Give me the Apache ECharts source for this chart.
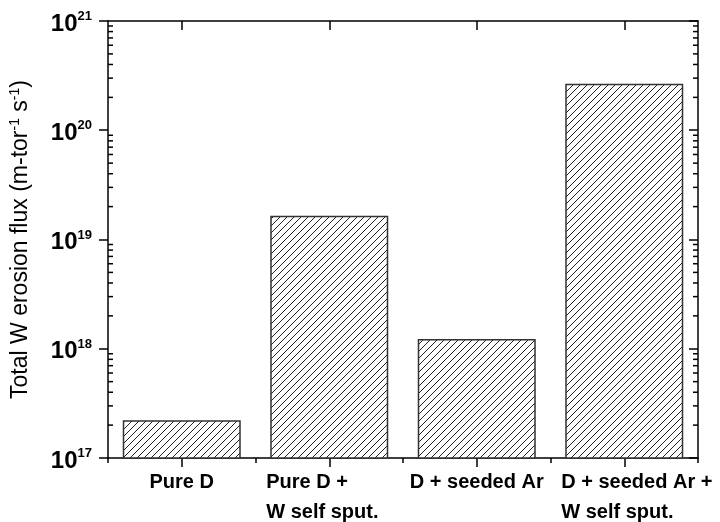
<!DOCTYPE html>
<html>
<head>
<meta charset="utf-8">
<script src="https://cdn.jsdelivr.net/npm/echarts@6/dist/echarts.min.js"></script>
<style>
html,body{margin:0;padding:0;background:#fff;}
#chart{width:720px;height:522px;}
</style>
</head>
<body>
<div id="chart"></div>
<script>
// ---- data ----
const categories = ['Pure D', 'Pure D +\nW self sput.', 'D + seeded Ar', 'D + seeded Ar +\nW self sput.'];
const fluxValues = [2.22e17, 1.65e19, 1.23e18, 2.66e20];
const yMin = 1e17;
const yMax = 1e21;
const decadeExponents = [17, 18, 19, 20];
const minorMultipliers = [2, 3, 4, 5, 6, 7, 8, 9];

const minorTickValues = [];
decadeExponents.forEach(function (e) {
  minorMultipliers.forEach(function (m) { minorTickValues.push([0, m * Math.pow(10, e)]); });
});

// hatch pattern
const P = 7;
const pc = document.createElement('canvas');
pc.width = P; pc.height = P;
const ctx = pc.getContext('2d');
ctx.fillStyle = '#fff';
ctx.fillRect(0, 0, P, P);
ctx.strokeStyle = '#222';
ctx.lineWidth = 1;
ctx.beginPath();
ctx.moveTo(0, P); ctx.lineTo(P, 0);
ctx.moveTo(-1, 1); ctx.lineTo(1, -1);
ctx.moveTo(P - 1, P + 1); ctx.lineTo(P + 1, P - 1);
ctx.stroke();

const FONT = 'Liberation Sans';
const chart = echarts.init(document.getElementById('chart'), null, {renderer: 'canvas'});

function yLabel(v) {
  const e = Math.round(Math.log10(v));
  return '{b|10}{s|' + e + '}';
}

const option = {
  animation: false,
  backgroundColor: '#fff',
  grid: {left: 103, right: 22, top: 21, bottom: 63, containLabel: false},
  xAxis: [
    {
      type: 'category',
      data: categories,
      position: 'bottom',
      axisLine: {show: true, lineStyle: {color: '#000', width: 1.5}},
      axisTick: {show: true, alignWithLabel: true, length: 9, inside: false, lineStyle: {color: '#000', width: 1.5}},
      axisLabel: {
        margin: 9,
        fontFamily: FONT,
        color: '#000',
        formatter: function (v) {
          if (v.indexOf('\n') >= 0) {
            return v.split('\n').map(function (s) { return '{l|' + s + '}'; }).join('\n');
          }
          return '{c|' + v + '}';
        },
        rich: {
          l: {fontFamily: FONT, fontSize: 20, fontWeight: 'bold', color: '#000', width: 126, align: 'left', lineHeight: 30},
          c: {fontFamily: FONT, fontSize: 20, fontWeight: 'bold', color: '#000', lineHeight: 30}
        }
      },
      splitLine: {show: false}
    },
    {
      type: 'category',
      data: categories,
      position: 'bottom',
      axisLine: {show: false},
      axisTick: {show: true, alignWithLabel: false, length: 5, lineStyle: {color: '#000', width: 1.5}},
      axisLabel: {show: false},
      splitLine: {show: false}
    },
    {
      type: 'category',
      data: categories,
      position: 'top',
      axisLine: {show: true, lineStyle: {color: '#000', width: 1.5}},
      axisTick: {show: true, alignWithLabel: true, inside: true, length: 9, lineStyle: {color: '#000', width: 1.5}},
      axisLabel: {show: false},
      splitLine: {show: false}
    }
  ],
  yAxis: [
    {
      type: 'log',
      logBase: 10,
      min: yMin,
      max: yMax,
      position: 'left',
      name: '{n|Total W erosion flux (m-tor}{s|-1}{n| s}{s|-1}{n|)}',
      nameLocation: 'middle',
      nameGap: 75,
      nameRotate: 90,
      nameTextStyle: {
        rich: {
          n: {fontFamily: FONT, fontSize: 23, color: '#000'},
          s: {fontFamily: FONT, fontSize: 14, color: '#000', padding: [0, 0, 11, 0]}
        }
      },
      axisLine: {show: true, lineStyle: {color: '#000', width: 1.5}},
      axisTick: {show: true, length: 9, lineStyle: {color: '#000', width: 1.5}},
      axisLabel: {
        margin: 16,
        formatter: yLabel,
        rich: {
          b: {fontFamily: FONT, fontSize: 24, fontWeight: 'bold', color: '#000', padding: [6, 0, 0, 0]},
          s: {fontFamily: FONT, fontSize: 13, fontWeight: 'bold', color: '#000', padding: [0, 0, 9, 0]}
        }
      },
      splitLine: {show: false},
      minorTick: {show: false}
    },
    {
      type: 'log',
      logBase: 10,
      min: yMin,
      max: yMax,
      position: 'right',
      axisLine: {show: true, lineStyle: {color: '#000', width: 1.5}},
      axisTick: {show: true, inside: true, length: 9, lineStyle: {color: '#000', width: 1.5}},
      axisLabel: {show: false},
      splitLine: {show: false}
    }
  ],
  series: [
    {
      type: 'bar',
      data: fluxValues,
      xAxisIndex: 0,
      yAxisIndex: 0,
      barWidth: '80%',
      itemStyle: {color: {image: pc, repeat: 'repeat'}, borderColor: '#333', borderWidth: 1.5}
    },
    {
      type: 'custom',
      xAxisIndex: 0,
      yAxisIndex: 0,
      silent: true,
      z: 10,
      data: minorTickValues,
      renderItem: function (params, api) {
        const cs = params.coordSys;
        const y = api.coord([0, api.value(1)])[1];
        const left = cs.x, right = cs.x + cs.width;
        return {
          type: 'group',
          children: [
            {type: 'line', shape: {x1: left, y1: y, x2: left + 5, y2: y}, style: {stroke: '#000', lineWidth: 1.5}},
            {type: 'line', shape: {x1: right - 5, y1: y, x2: right, y2: y}, style: {stroke: '#000', lineWidth: 1.5}}
          ]
        };
      }
    }
  ]
};
chart.setOption(option);
</script>
</body>
</html>
